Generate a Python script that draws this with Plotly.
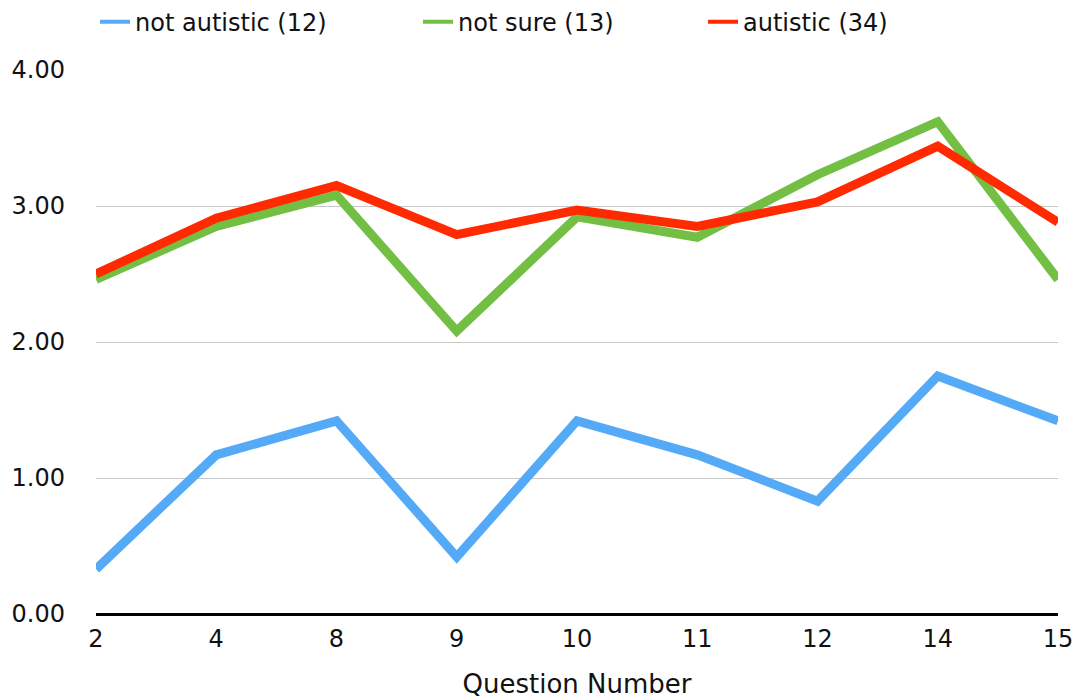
import plotly.graph_objects as go

# Question numbers shown along the x axis
questions = ["2", "4", "8", "9", "10", "11", "12", "14", "15"]

# Mean scores per group
not_autistic = [0.33, 1.17, 1.42, 0.42, 1.42, 1.17, 0.83, 1.75, 1.42]
not_sure = [2.46, 2.85, 3.08, 2.08, 2.92, 2.77, 3.23, 3.62, 2.46]
autistic = [2.50, 2.91, 3.15, 2.79, 2.97, 2.85, 3.03, 3.44, 2.88]

series_names = ["not autistic (12)", "not sure (13)", "autistic (34)"]
series_colors = ["#55aaf7", "#72bf44", "#ff2a00"]
series_values = [not_autistic, not_sure, autistic]

y_ticks = [0, 1, 2, 3, 4]

FONT = "DejaVu Sans, Verdana, sans-serif"

fig = go.Figure()

for name, color, vals in zip(series_names, series_colors, series_values):
    fig.add_trace(go.Scatter(
        x=questions, y=vals, mode="lines", name=name,
        line=dict(color=color, width=9),
        showlegend=False, hoverinfo="x+y+name",
    ))

# Thin legend keys, one legend box per series
legend_ids = ["legend", "legend2", "legend3"]
legend_x = [-0.001, 0.3347, 0.631]
for name, color, lid in zip(series_names, series_colors, legend_ids):
    fig.add_trace(go.Scatter(
        x=[None], y=[None], mode="lines", name=name,
        line=dict(color=color, width=4),
        showlegend=True, legend=lid,
    ))

legend_common = dict(
    orientation="h", yanchor="middle", xanchor="left", y=1.088,
    font=dict(family=FONT, size=24, color="#111111"),
    bgcolor="rgba(0,0,0,0)", itemwidth=30,
)

fig.update_layout(
    width=1076, height=700,
    margin=dict(l=96, r=18, t=70, b=86, autoexpand=False),
    paper_bgcolor="white", plot_bgcolor="white",
    font=dict(family=FONT, size=24, color="#111111"),
    legend=dict(x=legend_x[0], **legend_common),
    legend2=dict(x=legend_x[1], **legend_common),
    legend3=dict(x=legend_x[2], **legend_common),
    xaxis=dict(
        type="category", range=[0, len(questions) - 1],
        showgrid=False, zeroline=False, showline=False,
        ticks="", ticklabelstandoff=8, automargin=False,
        tickfont=dict(family=FONT, size=24, color="#111111"),
        title=dict(text="Question Number", standoff=22,
                   font=dict(family=FONT, size=26, color="#111111")),
    ),
    yaxis=dict(
        range=[0, 4], tickvals=y_ticks, tickformat=".2f",
        showgrid=True, gridcolor="#c8c8c8", gridwidth=1,
        zeroline=True, zerolinecolor="#000000", zerolinewidth=3,
        showline=False, ticks="", ticklabelstandoff=30, automargin=False,
        tickfont=dict(family=FONT, size=24, color="#111111"),
    ),
)

fig.write_html("out.html")
